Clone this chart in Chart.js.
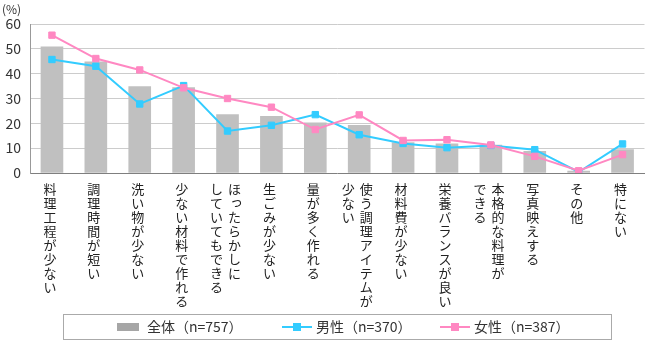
<!DOCTYPE html>
<html>
<head>
<meta charset="utf-8">
<script src="https://cdn.jsdelivr.net/npm/chart.js@4/dist/chart.umd.min.js"></script>
<style>
  html, body { margin: 0; padding: 0; background: #fff; }
</style>
</head>
<body>
<canvas id="chart" width="650" height="340"></canvas>
<script>
// each category is a list of vertical columns (right to left)
const categories = [
  ["料理工程が少ない"],
  ["調理時間が短い"],
  ["洗い物が少ない"],
  ["少ない材料で作れる"],
  ["ほったらかしに", "していてもできる"],
  ["生ごみが少ない"],
  ["量が多く作れる"],
  ["使う調理アイテムが", "少ない"],
  ["材料費が少ない"],
  ["栄養バランスが良い"],
  ["本格的な料理が", "できる"],
  ["写真映えする"],
  ["その他"],
  ["特にない"]
];
const totalValues  = [50.8, 44.8, 34.8, 34.4, 23.5, 22.8, 20.2, 19.2, 12.3, 11.7, 11.2, 8.7, 0.8, 9.4];
const maleValues   = [45.7, 43.0, 27.8, 35.2, 16.9, 19.2, 23.5, 15.4, 11.9, 10.2, 11.1, 9.4, 0.4, 11.7];
const femaleValues = [55.5, 46.1, 41.5, 34.3, 30.0, 26.5, 17.5, 23.4, 13.1, 13.4, 11.3, 6.7, 0.9, 7.4];
const yTicks = [0, 10, 20, 30, 40, 50, 60];
const seriesNames = ["全体（n=757）", "男性（n=370）", "女性（n=387）"];

const FONT = '"Noto Sans CJK JP", "Noto Sans", sans-serif';
const GRAY = "#c0c0c0";
const BLUE = "#33ccff";
const PINK = "#ff88c2";

const extras = {
  id: "extras",
  afterDraw(chart) {
    const ctx = chart.ctx;
    const xs = chart.scales.x;
    ctx.save();

    // unit label
    ctx.fillStyle = "#333";
    ctx.font = "12px " + FONT;
    ctx.textAlign = "left";
    ctx.textBaseline = "middle";
    ctx.fillText("(%)", 2, 9);

    // vertical category labels
    ctx.font = "13px " + FONT;
    ctx.fillStyle = "#222";
    ctx.textAlign = "center";
    ctx.textBaseline = "top";
    categories.forEach((cols, i) => {
      const cx = xs.getPixelForValue(i) - 2;
      cols.forEach((col, c) => {
        const x = cols.length > 1 ? cx + 9 - 18 * c : cx;
        [...col].forEach((ch, k) => {
          let dx = 0, dy = 0;
          if ("っゃゅょ".includes(ch)) { dx = 2; dy = -2; }
          ctx.fillText(ch, x + dx, xs.top + 10 + k * 14 + dy);
        });
      });
    });

    // legend
    ctx.strokeStyle = "#aaa";
    ctx.lineWidth = 1;
    ctx.strokeRect(63.5, 314.5, 548, 25);
    const ly = 327;
    const starts = [113, 282, 440];
    ctx.font = "14px " + FONT;
    ctx.textAlign = "left";
    ctx.textBaseline = "middle";
    chart.data.datasets.forEach((ds, i) => {
      const sx = starts[i];
      if (ds.type === "bar") {
        ctx.fillStyle = "#a6a6a6";
        ctx.fillRect(sx + 4, ly - 4, 22, 8);
      } else {
        ctx.strokeStyle = ds.borderColor;
        ctx.lineWidth = 2;
        ctx.beginPath();
        ctx.moveTo(sx, ly);
        ctx.lineTo(sx + 30, ly);
        ctx.stroke();
        ctx.fillStyle = ds.borderColor;
        ctx.fillRect(sx + 11, ly - 4, 8, 8);
      }
      ctx.fillStyle = "#333";
      ctx.fillText(ds.label, sx + 34, ly);
    });
    ctx.restore();
  }
};

new Chart(document.getElementById("chart"), {
  data: {
    labels: categories.map(c => c.join("")),
    datasets: [
      {
        type: "bar",
        label: seriesNames[0],
        data: totalValues,
        backgroundColor: GRAY,
        barThickness: 22,
        order: 3
      },
      {
        type: "line",
        label: seriesNames[1],
        data: maleValues,
        borderColor: BLUE,
        backgroundColor: BLUE,
        borderWidth: 2,
        pointStyle: "rect",
        pointRadius: 4.5,
        pointBorderWidth: 1,
        order: 2
      },
      {
        type: "line",
        label: seriesNames[2],
        data: femaleValues,
        borderColor: PINK,
        backgroundColor: PINK,
        borderWidth: 2,
        pointStyle: "rect",
        pointRadius: 4.5,
        pointBorderWidth: 1,
        order: 1
      }
    ]
  },
  options: {
    responsive: false,
    animation: false,
    devicePixelRatio: 1,
    layout: { padding: { top: 24, right: 1, left: 0, bottom: 0 } },
    plugins: {
      legend: { display: false },
      tooltip: { enabled: false }
    },
    scales: {
      x: {
        grid: { display: false },
        border: { display: true, color: "#7f7f7f" },
        ticks: { display: false },
        afterFit: s => { s.height = 167; }
      },
      y: {
        min: 0,
        max: 60,
        afterBuildTicks: s => { s.ticks = yTicks.map(v => ({ value: v })); },
        grid: {
          drawTicks: false,
          color: c => (c.tick && c.tick.value === 0 ? "rgba(0,0,0,0)" : "#cccccc")
        },
        border: { display: true, color: "#999" },
        ticks: { color: "#333", padding: 9, font: { size: 14, family: FONT } },
        afterFit: s => { s.width = 30; }
      }
    }
  },
  plugins: [extras]
});
</script>
</body>
</html>
